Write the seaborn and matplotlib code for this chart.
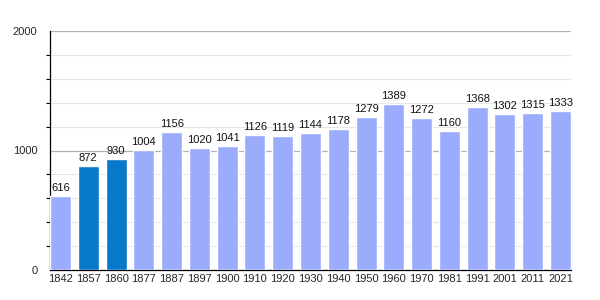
import matplotlib
matplotlib.use("Agg")
import matplotlib.pyplot as plt
import seaborn as sns
import pandas as pd
from matplotlib.ticker import MultipleLocator

years = ["1842", "1857", "1860", "1877", "1887", "1897", "1900", "1910", "1920", "1930",
         "1940", "1950", "1960", "1970", "1981", "1991", "2001", "2011", "2021"]
population = [616, 872, 930, 1004, 1156, 1020, 1041, 1126, 1119, 1144,
              1178, 1279, 1389, 1272, 1160, 1368, 1302, 1315, 1333]
highlight = ["1857", "1860"]

light = "#9aacfb"
dark = "#0878c8"

df = pd.DataFrame({"year": years, "pop": population})
df["kind"] = ["dark" if y in highlight else "light" for y in years]

sns.set_style("white")
plt.rcParams["font.family"] = ["Liberation Sans", "DejaVu Sans"]

fig = plt.figure(figsize=(6, 3), dpi=100)
ax = fig.add_axes([50/600, 30/300, 521/600, 239/300])

w = 0.755
sns.barplot(data=df, x="year", y="pop", hue="kind", palette={"light": light, "dark": dark},
            width=w, dodge=False, legend=False, ax=ax, saturation=1, zorder=3)

for i, v in enumerate(population):
    ax.text(i, v + 25, str(v), ha="center", va="bottom", fontsize=8, color="#111111", zorder=4)

ax.set_xlim(-w/2, len(years) - 1 + w/2)
ax.set_ylim(0, 2000)
ax.yaxis.set_major_locator(MultipleLocator(1000))
ax.yaxis.set_minor_locator(MultipleLocator(200))
ax.grid(which="minor", axis="y", color="#e6e6e6", linewidth=0.8, zorder=0)
ax.grid(which="major", axis="y", color="#b0b0b0", linewidth=0.9, zorder=1)
ax.set_xlabel("")
ax.set_ylabel("")
for s in ["top", "right"]:
    ax.spines[s].set_visible(False)
ax.spines["left"].set_color("#000000")
ax.spines["bottom"].set_color("#000000")
ax.spines["left"].set_linewidth(0.9)
ax.spines["bottom"].set_linewidth(0.9)
ax.tick_params(axis="y", which="major", length=4, width=0.9, color="#000000", labelsize=8, pad=5)
ax.tick_params(axis="y", which="minor", length=3, width=0.8, color="#000000", left=True)
ax.tick_params(axis="x", length=0, labelsize=8, pad=3)
ax.set_axisbelow(True)

fig.savefig("out.png", dpi=100)
